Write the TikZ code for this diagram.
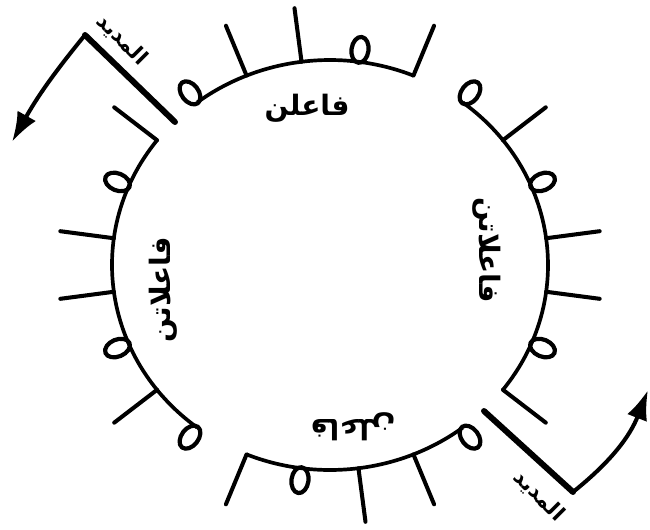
\documentclass[tikz,border=0pt]{standalone}
\usepackage{fontspec}
\TeXXeTstate=1
\newfontfamily\arabicfont[Script=Arabic]{DejaVu Sans}
\usetikzlibrary{arrows.meta}

\tikzset{
  daira/.style={line width=2.1pt},
  haraka/.style={line width=2.3pt,line cap=round},
  sukun/.style={line width=2.4pt},
  bahr/.style={line width=3.4pt,line cap=round},
  sahm/.style={line width=2.3pt,-{Latex[length=17pt,width=12pt]}},
  tafila/.style={font=\arabicfont\bfseries\fontsize{16}{18}\selectfont,inner sep=0pt},
  ism/.style={font=\arabicfont\bfseries\fontsize{12}{14}\selectfont,inner sep=0pt,rotate=-45}
}

\begin{document}
\begin{tikzpicture}[x=0.02cm,y=0.02cm,line join=round]
  \useasboundingbox (-330,-264) rectangle (320,265);
  % Lệnh vẽ vạch (متحرك) và vòng (ساكن)
  \def\haraka#1{
    \draw[haraka] ({218*cos(#1)},{205*sin(#1)}) -- ({272*cos(#1)},{259*sin(#1)});
  }
  \def\sukun#1{
    \begin{scope}[shift={({230*cos(#1)},{217*sin(#1)})},rotate=#1]
      \draw[sukun] (0,0) ellipse (13 and 8.5);
    \end{scope}
  }
  % Các cung của vòng tròn
  \draw[daira] ({218*cos(-37.5)},{205*sin(-37.5)}) arc[start angle=-37.5,end angle=52.5,x radius=218,y radius=205];
  \draw[daira] ({218*cos(67.5)},{205*sin(67.5)}) arc[start angle=67.5,end angle=127.5,x radius=218,y radius=205];
  \draw[daira] ({218*cos(142.5)},{205*sin(142.5)}) arc[start angle=142.5,end angle=232.5,x radius=218,y radius=205];
  \draw[daira] ({218*cos(247.5)},{205*sin(247.5)}) arc[start angle=247.5,end angle=307.5,x radius=218,y radius=205];
  % Vạch và vòng
  \foreach \t in {-37.5,-7.5,7.5,37.5,67.5,97.5,112.5,142.5,172.5,187.5,217.5,247.5,277.5,292.5}{\haraka{\t}}
  \foreach \t in {-22.5,22.5,52.5,82.5,127.5,157.5,202.5,232.5,262.5,307.5}{\sukun{\t}}
  % Tên các tafila
  \node[tafila] (foq) at (-23,157) {\beginR فاعلن\endR};
  \node[tafila,rotate=-90] (yamin) at (157,15) {\beginR فاعلاتن\endR};
  \node[tafila,rotate=90] (yasar) at (-167,-25) {\beginR فاعلاتن\endR};
  \node[tafila,rotate=180] (taht) at (23,-162) {\beginR فاعلن\endR};
  % Hai điểm bắt đầu (المديد)
  \coordinate (bahrA1) at (-155,143);
  \coordinate (bahrA2) at (-245,230);
  \coordinate (sahmA) at (-318,123);
  \coordinate (bahrB1) at (154,-146);
  \coordinate (bahrB2) at (243,-227);
  \coordinate (sahmB) at (318,-125);
  \draw[bahr] (bahrA1) -- (bahrA2);
  \draw[bahr] (bahrB1) -- (bahrB2);
  \draw[sahm] (bahrA2) to[bend right=5] (sahmA);
  \draw[sahm] (bahrB2) to[bend right=15] (sahmB);
  \node[ism] (madidA) at (-208,225) {\beginR المديد\endR};
  \node[ism] (madidB) at (209,-231) {\beginR المديد\endR};
\end{tikzpicture}
\end{document}
